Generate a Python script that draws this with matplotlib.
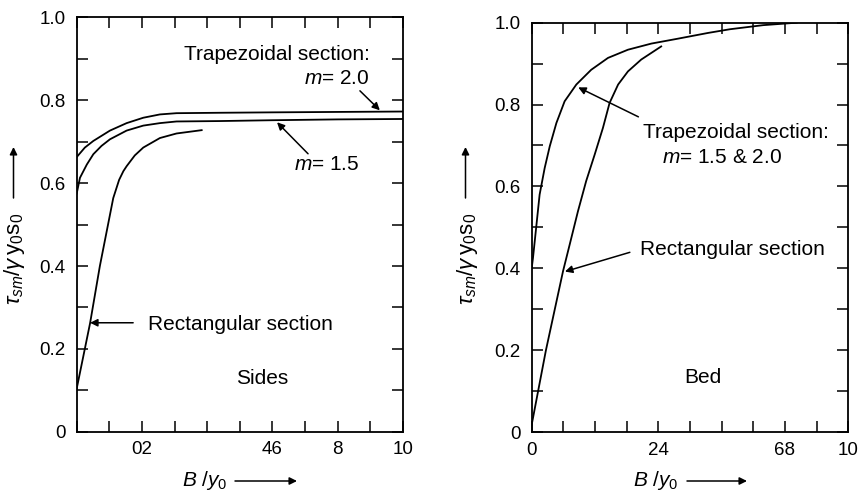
import matplotlib
matplotlib.use("Agg")
import matplotlib.pyplot as plt
from matplotlib.patches import FancyArrowPatch
from matplotlib.ticker import MultipleLocator, FixedLocator, FixedFormatter

plt.rcParams['font.family'] = ['Liberation Sans', 'DejaVu Sans']
plt.rcParams['mathtext.fontset'] = 'custom'
plt.rcParams['mathtext.rm'] = 'Liberation Sans'
plt.rcParams['mathtext.it'] = 'Liberation Sans:italic'
plt.rcParams['mathtext.bf'] = 'Liberation Sans:bold'

# ---- Sides: mean shear stress on the side walls ----
sides_trap20_x = [0.0, 0.25, 0.51, 1.02, 1.53, 2.04, 2.55, 3.06, 4.39, 6.0, 8.0, 10.0]
sides_trap20_y = [0.663, 0.686, 0.702, 0.727, 0.745, 0.758, 0.766, 0.769, 0.770, 0.771, 0.772, 0.773]

sides_trap15_x = [0.0, 0.1, 0.31, 0.51, 0.76, 1.02, 1.53, 2.04, 2.55, 3.06, 4.39, 6.0, 8.0, 10.0]
sides_trap15_y = [0.575, 0.613, 0.645, 0.670, 0.690, 0.706, 0.727, 0.739, 0.745, 0.749, 0.750, 0.752, 0.754, 0.755]

sides_rect_x = [0.0, 0.41, 0.71, 1.12, 1.30, 1.43, 1.53, 1.78, 2.04, 2.55, 3.06, 3.83]
sides_rect_y = [0.104, 0.262, 0.400, 0.564, 0.608, 0.629, 0.641, 0.667, 0.686, 0.709, 0.720, 0.728]

# ---- Bed: mean shear stress on the bed ----
bed_trap_x = [0.0, 0.04, 0.15, 0.25, 0.41, 0.57, 0.78, 1.04, 1.41, 1.88, 2.41, 3.04,
              3.78, 4.62, 5.57, 6.26, 7.31, 8.37]
bed_trap_y = [0.40, 0.425, 0.506, 0.580, 0.645, 0.698, 0.755, 0.808, 0.849, 0.885, 0.914, 0.934,
              0.949, 0.961, 0.975, 0.984, 0.994, 1.0]

bed_rect_x = [0.0, 0.45, 0.99, 1.20, 1.46, 1.72, 1.99, 2.25, 2.46, 2.73, 3.04, 3.46, 4.09]
bed_rect_y = [0.018, 0.200, 0.393, 0.458, 0.539, 0.613, 0.678, 0.743, 0.804, 0.849, 0.881, 0.910, 0.942]

sides_xtick_pos = [2, 6, 8, 10]
sides_xtick_lbl = ['02', '46', '8', '10']
bed_xtick_pos = [0, 4, 8, 10]
bed_xtick_lbl = ['0', '24', '68', '10']
ytick_pos = [0, 0.2, 0.4, 0.6, 0.8, 1.0]
ytick_lbl = ['0', '0.2', '0.4', '0.6', '0.8', '1.0']

W, H = 859, 494
fig = plt.figure(figsize=(W / 100, H / 100), dpi=100)


def px_axes(left, top, right, bottom):
    return fig.add_axes([left / W, 1 - bottom / H, (right - left) / W, (bottom - top) / H])


ax1 = px_axes(76.7, 17.5, 403.0, 431.7)
ax2 = px_axes(531.7, 22.7, 848.3, 432.0)

TICK_FS = 13.5
TXT_FS = 15
LW = 1.3

for ax, xpos, xlbl in ((ax1, sides_xtick_pos, sides_xtick_lbl),
                       (ax2, bed_xtick_pos, bed_xtick_lbl)):
    ax.set_xlim(0, 10)
    ax.set_ylim(0, 1.0)
    ax.xaxis.set_minor_locator(MultipleLocator(1))
    ax.xaxis.set_major_locator(FixedLocator(xpos))
    ax.xaxis.set_major_formatter(FixedFormatter(xlbl))
    ax.yaxis.set_major_locator(FixedLocator(ytick_pos))
    ax.yaxis.set_major_formatter(FixedFormatter(ytick_lbl))
    ax.yaxis.set_minor_locator(MultipleLocator(0.1))
    ax.tick_params(which='both', direction='in', top=True, right=True,
                   length=8, width=1.1, labelsize=TICK_FS)
    ax.tick_params(axis='x', which='major', pad=7)
    ax.tick_params(axis='y', which='major', pad=8)
    for s in ax.spines.values():
        s.set_linewidth(1.3)

arrow_kw = dict(arrowstyle='-|>', color='black', lw=1.1, mutation_scale=11,
                shrinkA=0, shrinkB=0)

# Sides panel
ax1.plot(sides_trap20_x, sides_trap20_y, color='black', lw=LW)
ax1.plot(sides_trap15_x, sides_trap15_y, color='black', lw=LW)
ax1.plot(sides_rect_x, sides_rect_y, color='black', lw=LW)

ax1.text(8.99, 0.898, 'Trapezoidal section:', fontsize=TXT_FS, ha='right', va='baseline')
ax1.text(8.99, 0.839, r'$m$= 2.0', fontsize=TXT_FS, ha='right', va='baseline')
ax1.annotate('', xy=(9.29, 0.776), xytext=(8.68, 0.823), arrowprops=arrow_kw)
ax1.text(8.68, 0.633, r'$m$= 1.5', fontsize=TXT_FS, ha='right', va='baseline')
ax1.annotate('', xy=(6.14, 0.747), xytext=(7.09, 0.671), arrowprops=arrow_kw)
ax1.text(2.19, 0.246, 'Rectangular section', fontsize=TXT_FS, ha='left', va='baseline')
ax1.annotate('', xy=(0.41, 0.263), xytext=(1.73, 0.263), arrowprops=arrow_kw)
ax1.text(5.68, 0.116, 'Sides', fontsize=TXT_FS, ha='center', va='baseline')

# Bed panel
ax2.plot(bed_trap_x, bed_trap_y, color='black', lw=LW)
ax2.plot(bed_rect_x, bed_rect_y, color='black', lw=LW)

ax2.text(3.51, 0.718, 'Trapezoidal section:', fontsize=TXT_FS, ha='left', va='baseline')
ax2.text(4.12, 0.658, r'$m$= 1.5 & 2.0', fontsize=TXT_FS, ha='left', va='baseline')
ax2.annotate('', xy=(1.47, 0.842), xytext=(3.37, 0.770), arrowprops=arrow_kw)
ax2.text(3.42, 0.432, 'Rectangular section', fontsize=TXT_FS, ha='left', va='baseline')
ax2.annotate('', xy=(1.05, 0.392), xytext=(3.10, 0.439), arrowprops=arrow_kw)
ax2.text(5.41, 0.120, 'Bed', fontsize=TXT_FS, ha='center', va='baseline')


# Axis titles with direction arrows, placed in figure pixels (top-left origin)
def fxy(x, y):
    return (x / W, 1 - y / H)


ylabel = r'$\tau_{sm}/\gamma\,\mathrm{y_0 s_0}$'
for xc in (15, 467):
    fig.text(*fxy(xc, 259), ylabel, fontsize=16, rotation=90,
             ha='center', va='center')
    fig.add_artist(FancyArrowPatch(
        fxy(xc - 1.5, 198), fxy(xc - 1.5, 147), transform=fig.transFigure, **arrow_kw))

xlabel = r'$B$ /$y_0$'
for x0, a0, a1 in ((182, 235, 297), (633, 687, 747)):
    fig.text(*fxy(x0, 486), xlabel, fontsize=TXT_FS, ha='left', va='baseline')
    fig.add_artist(FancyArrowPatch(
        fxy(a0, 481), fxy(a1, 481), transform=fig.transFigure, **arrow_kw))

fig.savefig('out.png', dpi=100)
